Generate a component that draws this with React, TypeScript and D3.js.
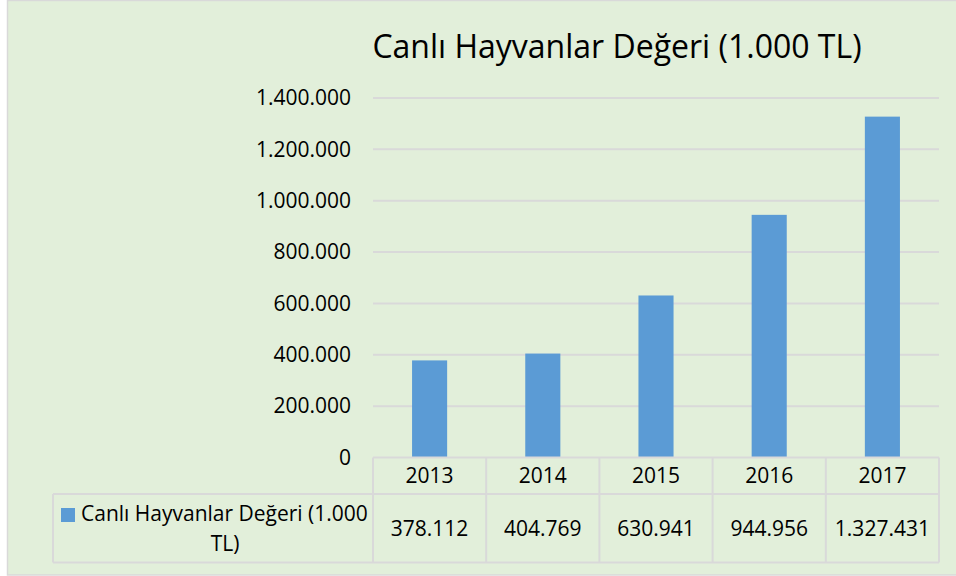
import React from 'react';
import * as d3 from 'd3';

const years = ['2013', '2014', '2015', '2016', '2017'];
const values = [378112, 404769, 630941, 944956, 1327431];
const yTicks = [0, 200000, 400000, 600000, 800000, 1000000, 1200000, 1400000];
const title = 'Canlı Hayvanlar Değeri (1.000 TL)';
const seriesName = ['Canlı Hayvanlar Değeri (1.000', 'TL)'];

const W = 956;
const H = 576;
const FONT = '"Open Sans", sans-serif';

// Turkish style thousands separator
const fmt = (v: number) => d3.format(',')(v).replace(/,/g, '.');

const App = () => {
    const left = 373;
    const right = 939;
    const top = 98;
    const base = 457.5;
    const rowY = 494;
    const bottom = 562.5;
    const tableLeft = 53;

    const x = d3.scaleBand<string>().domain(years).range([left, right]).padding(0);
    const y = d3.scaleLinear().domain([0, 1400000]).range([base, top]);
    const barW = x.bandwidth() * 0.31;

    const grid = '#d9d9d9';
    const edges = [...years.map(d => x(d) as number), right];

    return (
        <svg width={W} height={H} style={{position: 'fixed', top: 0, left: 0, display: 'block'}}
             fontFamily={FONT}>
            <rect x={7.5} y={0.5} width={W} height={574.5} fill="#e2efda" stroke={grid} strokeWidth={1.5}/>

            <text x={617} y={58} textAnchor="middle" fontSize={32} fill="#000">{title}</text>

            {/* gridlines */}
            {yTicks.filter(t => t > 0).map(t => (
                <line key={t} x1={left} x2={right} y1={y(t)} y2={y(t)} stroke={grid} strokeWidth={2}/>
            ))}

            {/* y axis labels */}
            {yTicks.map(t => (
                <text key={t} x={351} y={y(t)} dy="0.35em" textAnchor="end" fontSize={21} fill="#000">
                    {fmt(t)}
                </text>
            ))}

            {/* bars */}
            {values.map((v, i) => (
                <rect key={years[i]}
                      x={(x(years[i]) as number) + (x.bandwidth() - barW) / 2}
                      y={y(v)}
                      width={barW}
                      height={base - y(v)}
                      fill="#5b9bd5"/>
            ))}

            {/* data table */}
            <g stroke={grid} strokeWidth={2} fill="none">
                <line x1={left} x2={right} y1={base} y2={base}/>
                <line x1={tableLeft} x2={right} y1={rowY} y2={rowY}/>
                <line x1={tableLeft} x2={right} y1={bottom} y2={bottom}/>
                <line x1={tableLeft} x2={tableLeft} y1={rowY} y2={bottom}/>
                {edges.map((e, i) => (
                    <line key={i} x1={e} x2={e} y1={base} y2={bottom}/>
                ))}
            </g>

            {years.map((yr, i) => (
                <g key={yr}>
                    <text x={(x(yr) as number) + x.bandwidth() / 2} y={(base + rowY) / 2} dy="0.35em"
                          textAnchor="middle" fontSize={21} fill="#000">{yr}</text>
                    <text x={(x(yr) as number) + x.bandwidth() / 2} y={(rowY + bottom) / 2} dy="0.35em"
                          textAnchor="middle" fontSize={21} fill="#000">{fmt(values[i])}</text>
                </g>
            ))}

            {/* legend key */}
            <rect x={61} y={508} width={14} height={14} fill="#5b9bd5"/>
            <text x={81} y={514} dy="0.35em" fontSize={21} fill="#000">{seriesName[0]}</text>
            <text x={225} y={544} dy="0.35em" textAnchor="middle" fontSize={21} fill="#000">{seriesName[1]}</text>
        </svg>
    );
};

export default App;
